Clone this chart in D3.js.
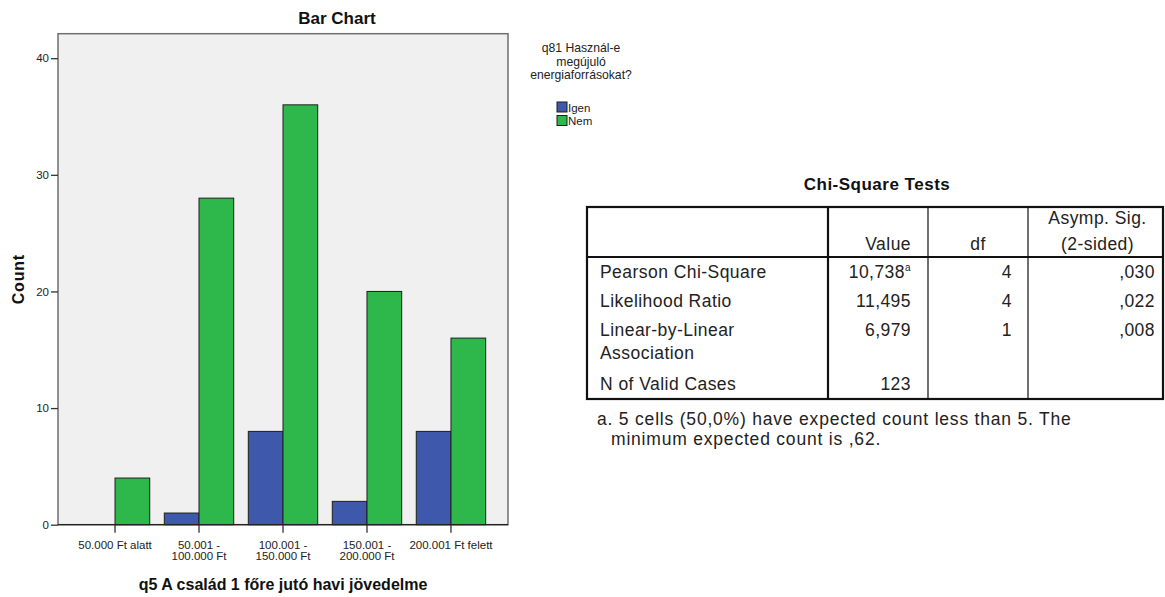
<!DOCTYPE html>
<html>
<head>
<meta charset="utf-8">
<script src="https://cdn.jsdelivr.net/npm/d3@7"></script>
<style>
  html, body { margin: 0; padding: 0; background: #ffffff; }
  svg { display: block; font-family: "Liberation Sans", Arial, sans-serif; }
</style>
</head>
<body>
<svg id="chart" width="1165" height="597"></svg>
<script>
// Income bands (x categories)
const categories = ["50.000 Ft alatt", "50.001 - 100.000 Ft", "100.001 - 150.000 Ft", "150.001 - 200.000 Ft", "200.001 Ft felett"];
// Series: answers to q81
const seriesNames = ["Igen", "Nem"];
const igenCounts = [0, 1, 8, 2, 8];
const nemCounts = [4, 28, 36, 20, 16];
const yTicks = [0, 10, 20, 30, 40];
const seriesColors = ["#3e58ac", "#2eb84c"];

// Chi-square table contents
const tableTitle = "Chi-Square Tests";
const headerCols = ["", "Value", "df", "Asymp. Sig.|(2-sided)"];
const rowLabels = ["Pearson Chi-Square", "Likelihood Ratio", "Linear-by-Linear|Association", "N of Valid Cases"];
const rowValues = ["10,738", "11,495", "6,979", "123"];
const rowValueSup = ["a", "", "", ""];
const rowDf = ["4", "4", "1", ""];
const rowSig = [",030", ",022", ",008", ""];
const footnote = ["a. 5 cells (50,0%) have expected count less than 5. The", "minimum expected count is ,62."];

const svg = d3.select("#chart");

// ---------- Bar chart ----------
const plot = { left: 58, right: 508, top: 33.7, bottom: 524.7 };
const y = d3.scaleLinear().domain([0, 42.1]).range([plot.bottom, plot.top]);
const x = d3.scaleBand().domain(categories).range([plot.left, plot.right]).paddingInner(0).paddingOuter(0.179);
const xSub = d3.scaleBand().domain(seriesNames).range([-34.7, 34.7]);
const color = d3.scaleOrdinal().domain(seriesNames).range(seriesColors);

const series = [igenCounts, nemCounts];

svg.append("text")
  .attr("x", 337).attr("y", 24)
  .attr("text-anchor", "middle")
  .attr("font-size", 17).attr("font-weight", "bold").attr("fill", "#111")
  .text("Bar Chart");

svg.append("rect")
  .attr("x", plot.left).attr("y", plot.top)
  .attr("width", plot.right - plot.left).attr("height", plot.bottom - plot.top)
  .attr("fill", "#f0f0f0").attr("stroke", "#6f6f6f").attr("stroke-width", 1.5);

const bars = svg.append("g");
categories.forEach((c, i) => {
  seriesNames.forEach((s, j) => {
    const v = series[j][i];
    if (v <= 0) return;
    bars.append("rect")
      .attr("x", x(c) + x.bandwidth() / 2 + xSub(s))
      .attr("y", y(v))
      .attr("width", xSub.bandwidth())
      .attr("height", y(0) - y(v))
      .attr("fill", color(s))
      .attr("stroke", "#1e1e1e").attr("stroke-width", 1);
  });
});

// baseline
svg.append("line")
  .attr("x1", plot.left).attr("x2", plot.right)
  .attr("y1", y(0)).attr("y2", y(0))
  .attr("stroke", "#222").attr("stroke-width", 1.3);

// y axis
const yAxis = d3.axisLeft(y).tickValues(yTicks).tickSize(7).tickPadding(2).tickFormat(d3.format("d"));
const gy = svg.append("g").attr("transform", `translate(${plot.left},0)`).call(yAxis);
gy.select(".domain").remove();
gy.selectAll(".tick line").attr("stroke", "#333").attr("stroke-width", 1.3);
gy.selectAll(".tick text").attr("font-size", 11.5).attr("fill", "#222").attr("font-family", "Liberation Sans, Arial, sans-serif");

// x axis
const xAxis = d3.axisBottom(x).tickSize(8).tickPadding(4);
const gx = svg.append("g").attr("transform", `translate(0,${plot.bottom})`).call(xAxis);
gx.select(".domain").remove();
gx.selectAll(".tick line").attr("stroke", "#333").attr("stroke-width", 1.3);
gx.selectAll(".tick text").remove();
gx.selectAll(".tick").each(function(d) {
  const parts = d.indexOf(" - ") >= 0 ? [d.split(" - ")[0] + " -", d.split(" - ")[1]] : [d];
  const t = d3.select(this).append("text")
    .attr("text-anchor", "middle").attr("font-size", 11.5).attr("fill", "#222")
    .attr("font-family", "Liberation Sans, Arial, sans-serif");
  parts.forEach((p, k) => {
    t.append("tspan").attr("x", 0).attr("y", 24 + k * 11).text(p);
  });
});

svg.append("text")
  .attr("x", (plot.left + plot.right) / 2).attr("y", 590)
  .attr("text-anchor", "middle")
  .attr("font-size", 16).attr("font-weight", "bold").attr("fill", "#111")
  .text("q5 A család 1 főre jutó havi jövedelme");

svg.append("text")
  .attr("transform", `translate(24,${(plot.top + plot.bottom) / 2}) rotate(-90)`)
  .attr("text-anchor", "middle")
  .attr("font-size", 16).attr("font-weight", "bold").attr("letter-spacing", 0.8).attr("fill", "#111")
  .text("Count");

// legend
const legendX = 581;
const legendTitle = ["q81 Használ-e", "megújuló", "energiaforrásokat?"];
const lg = svg.append("g");
legendTitle.forEach((t, k) => {
  lg.append("text").attr("x", legendX).attr("y", 52 + k * 13.5)
    .attr("text-anchor", "middle").attr("font-size", 12.2).attr("fill", "#222").text(t);
});
seriesNames.forEach((s, k) => {
  lg.append("rect").attr("x", 557).attr("y", 102 + k * 13.5)
    .attr("width", 10).attr("height", 10)
    .attr("fill", color(s)).attr("stroke", "#1e1e1e").attr("stroke-width", 1);
  lg.append("text").attr("x", 568).attr("y", 111.5 + k * 13.5)
    .attr("font-size", 11.5).attr("fill", "#222").text(s);
});

// ---------- Chi-square table ----------
const colX = [587, 828, 928, 1028, 1163];
const tTop = 207, tHead = 257, tBottom = 399;
const fs = 17.5;
const ls = 0.45;

svg.append("text")
  .attr("x", (colX[0] + colX[4]) / 2 + 2).attr("y", 190)
  .attr("text-anchor", "middle").attr("font-size", 17).attr("font-weight", "bold")
  .attr("letter-spacing", 0.5).attr("fill", "#111")
  .text(tableTitle);

const tg = svg.append("g").attr("letter-spacing", ls);
// outer frame
tg.append("rect").attr("x", colX[0]).attr("y", tTop)
  .attr("width", colX[4] - colX[0]).attr("height", tBottom - tTop)
  .attr("fill", "none").attr("stroke", "#111").attr("stroke-width", 2.2);
// header separator
tg.append("line").attr("x1", colX[0]).attr("x2", colX[4]).attr("y1", tHead).attr("y2", tHead)
  .attr("stroke", "#111").attr("stroke-width", 2.2);
// column separators
[1, 2, 3].forEach(i => {
  tg.append("line").attr("x1", colX[i]).attr("x2", colX[i]).attr("y1", tTop).attr("y2", tBottom)
    .attr("stroke", "#111").attr("stroke-width", i === 1 ? 2.2 : 1.2);
});

// headers
tg.append("text").attr("x", 911).attr("y", 250).attr("text-anchor", "end")
  .attr("font-size", fs).attr("fill", "#222").text(headerCols[1]);
tg.append("text").attr("x", (colX[2] + colX[3]) / 2).attr("y", 250).attr("text-anchor", "middle")
  .attr("font-size", fs).attr("fill", "#222").text(headerCols[2]);
headerCols[3].split("|").forEach((t, k) => {
  tg.append("text").attr("x", (colX[3] + colX[4]) / 2 + 2).attr("y", 224 + k * 26)
    .attr("text-anchor", "middle").attr("font-size", fs).attr("fill", "#222").text(t);
});

// rows
const rowY = [278, 307, 336, 390];
rowLabels.forEach((lab, i) => {
  lab.split("|").forEach((t, k) => {
    tg.append("text").attr("x", 600).attr("y", rowY[i] + k * 23)
      .attr("font-size", fs).attr("fill", "#222").text(t);
  });
  const vt = tg.append("text").attr("x", 911).attr("y", rowY[i]).attr("text-anchor", "end")
    .attr("font-size", fs).attr("fill", "#222");
  vt.append("tspan").text(rowValues[i]);
  if (rowValueSup[i]) {
    vt.append("tspan").attr("dy", -7).attr("font-size", 10).text(rowValueSup[i]);
  }
  tg.append("text").attr("x", 1012).attr("y", rowY[i]).attr("text-anchor", "end")
    .attr("font-size", fs).attr("fill", "#222").text(rowDf[i]);
  tg.append("text").attr("x", 1155).attr("y", rowY[i]).attr("text-anchor", "end")
    .attr("font-size", fs).attr("fill", "#222").text(rowSig[i]);
});

footnote.forEach((t, k) => {
  svg.append("text").attr("x", k ? 611 : 597).attr("y", 425 + k * 20)
    .attr("font-size", fs).attr("letter-spacing", 0.8).attr("fill", "#222").text(t);
});
</script>
</body>
</html>
